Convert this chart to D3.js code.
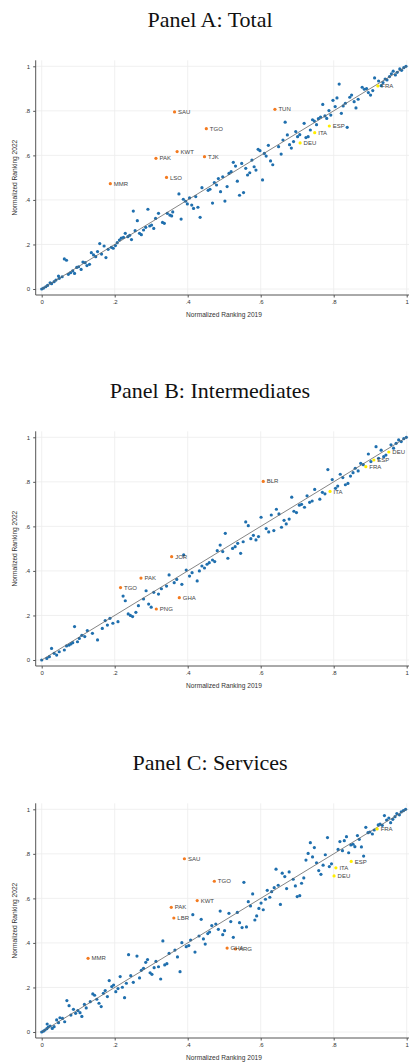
<!DOCTYPE html>
<meta charset="utf-8">
<head>
  <title>Normalized ranking 2019 vs 2022</title>
</head>
<style>
body { margin: 0; background: #fff; }
svg { display: block; }
.tick-label { font-family: "Liberation Sans", Arial, sans-serif; font-size: 6px; fill: #333; }
.axis-title { font-family: "Liberation Sans", Arial, sans-serif; font-size: 6.6px; fill: #333; }
.panel-title { font-family: "Liberation Serif", "DejaVu Serif", serif; font-size: 22px; fill: #111; }
.iso { font-family: "Liberation Sans", Arial, sans-serif; font-size: 6px; fill: #444; }
</style>
<body>
<svg id="chart" width="409" height="1063"></svg>

<script src="https://cdnjs.cloudflare.com/ajax/libs/d3/7.8.5/d3.min.js"></script>
<script>
var width = 409, height = 1063

var tickValues = [0, .2, .4, .6, .8, 1]
var tickLabels = ["0", ".2", ".4", ".6", ".8", "1"]
var panelTitles = ["Panel A: Total", "Panel B: Intermediates", "Panel C: Services"]

// Panel A: Total  [ranking 2019, ranking 2022]
var totalPoints = [
  [0,0],[.005,.004],[.011,.01],[.016,.016],[.023,.028],[.027,.024],[.034,.033],[.039,.04],[.046,.058],[.048,.048],
  [.056,.055],[.062,.135],[.068,.129],[.073,.066],[.079,.073],[.085,.081],[.09,.07],[.096,.097],[.101,.1],[.108,.088],
  [.113,.121],[.119,.118],[.124,.105],[.131,.111],[.136,.163],[.142,.153],[.148,.145],[.153,.168],[.159,.204],[.164,.157],
  [.171,.193],[.176,.141],[.182,.178],[.191,.187],[.196,.183],[.202,.195],[.207,.208],[.213,.22],[.218,.228],[.224,.232],
  [.229,.25],[.236,.235],[.241,.241],[.246,.222],[.251,.35],[.256,.262],[.262,.307],[.268,.25],[.273,.244],[.279,.265],
  [.285,.277],[.291,.358],[.296,.283],[.301,.287],[.307,.272],[.312,.317],[.32,.34],[.331,.299],[.336,.295],[.344,.34],
  [.351,.332],[.356,.328],[.359,.346],[.376,.427],[.382,.314],[.388,.403],[.394,.394],[.399,.382],[.405,.409],[.411,.377],
  [.416,.362],[.422,.415],[.428,.367],[.434,.322],[.439,.455],[.456,.443],[.461,.448],[.468,.386],[.473,.478],[.479,.467],
  [.484,.496],[.49,.437],[.496,.504],[.502,.395],[.508,.46],[.513,.519],[.519,.527],[.525,.569],[.531,.552],[.536,.484],
  [.542,.421],[.548,.564],[.553,.433],[.559,.542],[.564,.512],[.57,.522],[.576,.579],[.582,.549],[.587,.534],[.593,.627],
  [.598,.621],[.605,.49],[.61,.609],[.615,.597],[.621,.645],[.627,.575],[.633,.558],[.649,.639],[.656,.606],[.661,.669],
  [.667,.749],[.673,.692],[.679,.648],[.684,.633],[.69,.662],[.696,.707],[.701,.684],[.707,.693],[.719,.744],[.724,.68],
  [.73,.684],[.736,.714],[.742,.76],[.747,.754],[.753,.738],[.758,.765],[.764,.772],[.77,.829],[.776,.777],[.781,.766],
  [.787,.801],[.792,.781],[.798,.847],[.804,.819],[.809,.858],[.815,.92],[.821,.789],[.826,.822],[.832,.834],[.837,.726],
  [.844,.861],[.849,.871],[.856,.841],[.861,.813],[.867,.852],[.878,.906],[.884,.897],[.89,.9],[.895,.882],[.901,.871],
  [.907,.891],[.912,.948],[.923,.934],[.93,.913],[.935,.927],[.941,.943],[.946,.939],[.953,.954],[.958,.966],[.963,.978],
  [.969,.961],[.974,.973],[.981,.988],[.986,.982],[.992,.994],[.998,1]
]
var totalOutliers = [
  ["SAU",.364,.795],["TGO",.451,.72],["KWT",.371,.617],["PAK",.313,.587],["TJK",.446,.594],
  ["LSO",.342,.501],["MMR",.188,.473],["TUN",.639,.807]
]
var totalEurope = [["FRA",.921,.912],["ESP",.788,.732],["ITA",.748,.702],["DEU",.708,.656]]

// Panel B: Intermediates
var interPoints = [
  [0,0],[.014,.007],[.021,.015],[.027,.052],[.034,.03],[.041,.022],[.048,.037],[.062,.045],[.068,.063],[.075,.067],
  [.08,.072],[.085,.078],[.09,.15],[.098,.082],[.103,.097],[.11,.111],[.118,.105],[.125,.132],[.139,.12],[.153,.09],
  [.166,.142],[.174,.177],[.18,.157],[.187,.187],[.195,.165],[.209,.172],[.223,.287],[.229,.266],[.237,.207],[.243,.2],
  [.249,.195],[.258,.214],[.265,.244],[.279,.274],[.286,.311],[.293,.251],[.3,.237],[.307,.304],[.32,.296],[.328,.32],
  [.342,.332],[.349,.382],[.363,.347],[.37,.362],[.384,.34],[.389,.472],[.396,.404],[.405,.377],[.412,.392],[.426,.355],
  [.432,.4],[.439,.422],[.446,.413],[.453,.43],[.459,.437],[.468,.449],[.474,.442],[.481,.491],[.489,.516],[.496,.487],
  [.503,.569],[.51,.457],[.523,.501],[.53,.509],[.537,.524],[.545,.479],[.552,.531],[.559,.62],[.566,.603],[.573,.545],
  [.58,.56],[.587,.539],[.594,.554],[.601,.641],[.615,.59],[.622,.575],[.629,.651],[.636,.581],[.643,.677],[.65,.656],
  [.657,.596],[.664,.627],[.67,.611],[.678,.633],[.685,.731],[.691,.668],[.698,.662],[.706,.695],[.712,.699],[.72,.686],
  [.727,.737],[.734,.708],[.741,.714],[.748,.766],[.762,.722],[.769,.753],[.776,.746],[.784,.855],[.796,.81],[.805,.771],
  [.811,.781],[.818,.834],[.825,.819],[.832,.787],[.839,.793],[.846,.826],[.853,.841],[.859,.861],[.867,.849],[.874,.883],
  [.881,.877],[.895,.925],[.902,.891],[.916,.958],[.923,.906],[.93,.942],[.937,.913],[.943,.92],[.957,.966],[.964,.951],
  [.971,.973],[.978,.988],[.985,.981],[.992,.994],[.999,1]
]
var interOutliers = [
  ["BLR",.607,.802],["JOR",.356,.464],["PAK",.272,.368],["TGO",.216,.325],["GHA",.377,.28],["PNG",.314,.229]
]
var interEurope = [["DEU",.951,.934],["ESP",.91,.898],["FRA",.888,.868],["ITA",.79,.757]]

// Panel C: Services
var servPoints = [
  [0,0],[.005,.004],[.009,.009],[.014,.015],[.018,.022],[.015,.036],[.023,.027],[.029,.016],[.034,.024],[.041,.054],
  [.046,.042],[.05,.064],[.057,.061],[.063,.046],[.069,.141],[.075,.118],[.08,.076],[.087,.102],[.093,.084],[.099,.096],
  [.105,.087],[.11,.07],[.117,.124],[.122,.108],[.133,.136],[.14,.171],[.145,.165],[.151,.147],[.157,.129],[.163,.114],
  [.169,.174],[.174,.186],[.18,.159],[.185,.231],[.192,.204],[.197,.211],[.203,.181],[.209,.195],[.215,.249],[.221,.201],
  [.227,.154],[.232,.219],[.238,.347],[.244,.253],[.251,.223],[.261,.341],[.268,.243],[.273,.277],[.279,.286],[.285,.313],
  [.29,.325],[.297,.266],[.302,.259],[.308,.289],[.313,.317],[.32,.293],[.326,.238],[.332,.409],[.337,.301],[.343,.307],
  [.349,.353],[.365,.368],[.372,.337],[.379,.271],[.384,.401],[.396,.383],[.403,.388],[.408,.413],[.414,.527],[.42,.359],
  [.431,.431],[.437,.506],[.443,.418],[.448,.395],[.455,.442],[.46,.449],[.466,.478],[.477,.485],[.484,.461],[.489,.543],
  [.496,.437],[.501,.455],[.513,.533],[.518,.496],[.525,.425],[.536,.537],[.542,.491],[.549,.469],[.554,.672],[.561,.472],
  [.566,.585],[.572,.566],[.578,.62],[.584,.503],[.589,.521],[.595,.555],[.601,.579],[.607,.549],[.613,.596],[.618,.636],
  [.625,.605],[.63,.63],[.637,.648],[.642,.731],[.648,.659],[.654,.573],[.659,.713],[.666,.698],[.671,.644],[.678,.719],
  [.689,.686],[.695,.656],[.7,.608],[.707,.612],[.712,.668],[.718,.692],[.724,.772],[.73,.802],[.736,.85],[.742,.786],
  [.747,.828],[.753,.76],[.759,.725],[.765,.708],[.771,.749],[.777,.796],[.783,.873],[.788,.743],[.794,.755],[.812,.82],
  [.817,.855],[.824,.814],[.829,.859],[.835,.877],[.841,.805],[.847,.84],[.853,.843],[.858,.832],[.865,.882],[.87,.865],
  [.876,.831],[.882,.79],[.888,.919],[.894,.895],[.899,.898],[.906,.889],[.911,.907],[.922,.93],[.927,.934],[.933,.928],
  [.939,.972],[.945,.952],[.951,.961],[.956,.94],[.962,.955],[.968,.967],[.973,.981],[.98,.975],[.985,.988],[.991,.994],
  [.997,1]
]
var servOutliers = [
  ["SAU",.391,.778],["TGO",.473,.677],["KWT",.426,.59],["PAK",.355,.56],["LBR",.362,.512],
  ["MMR",.127,.331],["GHA",.508,.377],["ARG",.531,.373]
]
var servEurope = [["FRA",.919,.912],["ESP",.848,.766],["ITA",.806,.737],["DEU",.801,.701]]

var panels = [
  {title: panelTitles[0], pts: totalPoints, out: totalOutliers, eu: totalEurope, top: 66.3},
  {title: panelTitles[1], pts: interPoints, out: interOutliers, eu: interEurope, top: 437.3},
  {title: panelTitles[2], pts: servPoints, out: servOutliers, eu: servEurope, top: 809.3}
]

var blue = "#1f6fae", orange = "#f47a1f", yellow = "#ffee00"
var plotH = 222.7
var x = d3.scaleLinear().domain([0, 1]).range([41.7, 406.7])
var axisLeft = 35.7

var svg = d3.select("#chart")

panels.forEach(function(p) {
  var y = d3.scaleLinear().domain([0, 1]).range([p.top + plotH, p.top])
  var g = svg.append("g")
  var bottom = p.top + plotH + 6

  // grid
  g.selectAll(".gx").data(tickValues).enter().append("line")
    .attr("x1", function(d) { return x(d) }).attr("x2", function(d) { return x(d) })
    .attr("y1", p.top - 6).attr("y2", bottom)
    .attr("stroke", "#ececec").attr("stroke-width", 0.8)
  g.selectAll(".gy").data(tickValues).enter().append("line")
    .attr("x1", axisLeft).attr("x2", width)
    .attr("y1", function(d) { return y(d) }).attr("y2", function(d) { return y(d) })
    .attr("stroke", "#ececec").attr("stroke-width", 0.8)

  // axes
  var ya = g.append("g").attr("transform", "translate(" + axisLeft + ",0)")
    .call(d3.axisLeft(y).tickValues(tickValues).tickSize(2.5).tickPadding(3)
      .tickFormat(function(d, i) { return tickLabels[i] }))
  ya.select(".domain").attr("d", "M0," + (p.top - 6) + "V" + bottom).attr("stroke", "#555")
  ya.selectAll(".tick line").attr("stroke", "#555")
  ya.selectAll(".tick text").attr("class", "tick-label").attr("font-size", null).attr("font-family", null)

  var xa = g.append("g").attr("transform", "translate(0," + bottom + ")")
    .call(d3.axisBottom(x).tickValues(tickValues).tickSize(2.5).tickPadding(2.5)
      .tickFormat(function(d, i) { return tickLabels[i] }))
  xa.select(".domain").attr("d", "M" + axisLeft + ",0H" + width).attr("stroke", "#555")
  xa.selectAll(".tick line").attr("stroke", "#555")
  xa.selectAll(".tick text").attr("class", "tick-label").attr("font-size", null).attr("font-family", null)

  // titles
  g.append("text").attr("class", "panel-title")
    .attr("x", 210).attr("y", p.top - 39).attr("text-anchor", "middle").text(p.title)
  g.append("text").attr("class", "axis-title")
    .attr("transform", "translate(17," + (p.top + plotH / 2) + ") rotate(-90)")
    .attr("text-anchor", "middle").text("Normalized Ranking 2022")
  g.append("text").attr("class", "axis-title")
    .attr("x", 224).attr("y", bottom + 22).attr("text-anchor", "middle").text("Normalized Ranking 2019")

  // points
  g.selectAll(".pt").data(p.pts).enter().append("circle")
    .attr("cx", function(d) { return x(d[0]) }).attr("cy", function(d) { return y(d[1]) })
    .attr("r", 1.6).attr("fill", blue)

  // 45 degree line
  g.append("line")
    .attr("x1", x(0)).attr("y1", y(0)).attr("x2", x(1)).attr("y2", y(1))
    .attr("stroke", "#666").attr("stroke-width", 0.8)

  var labeled = p.out.map(function(d) { return {iso: d[0], x: d[1], y: d[2], c: orange} })
    .concat(p.eu.map(function(d) { return {iso: d[0], x: d[1], y: d[2], c: yellow} }))

  g.selectAll(".lp").data(labeled).enter().append("circle")
    .attr("cx", function(d) { return x(d.x) }).attr("cy", function(d) { return y(d.y) })
    .attr("r", 1.6).attr("fill", function(d) { return d.c })
  g.selectAll(".lt").data(labeled).enter().append("text")
    .attr("class", "iso")
    .attr("x", function(d) { return x(d.x) + 3.5 }).attr("y", function(d) { return y(d.y) + 2.1 })
    .text(function(d) { return d.iso })
})
</script>
</body>
</html>
